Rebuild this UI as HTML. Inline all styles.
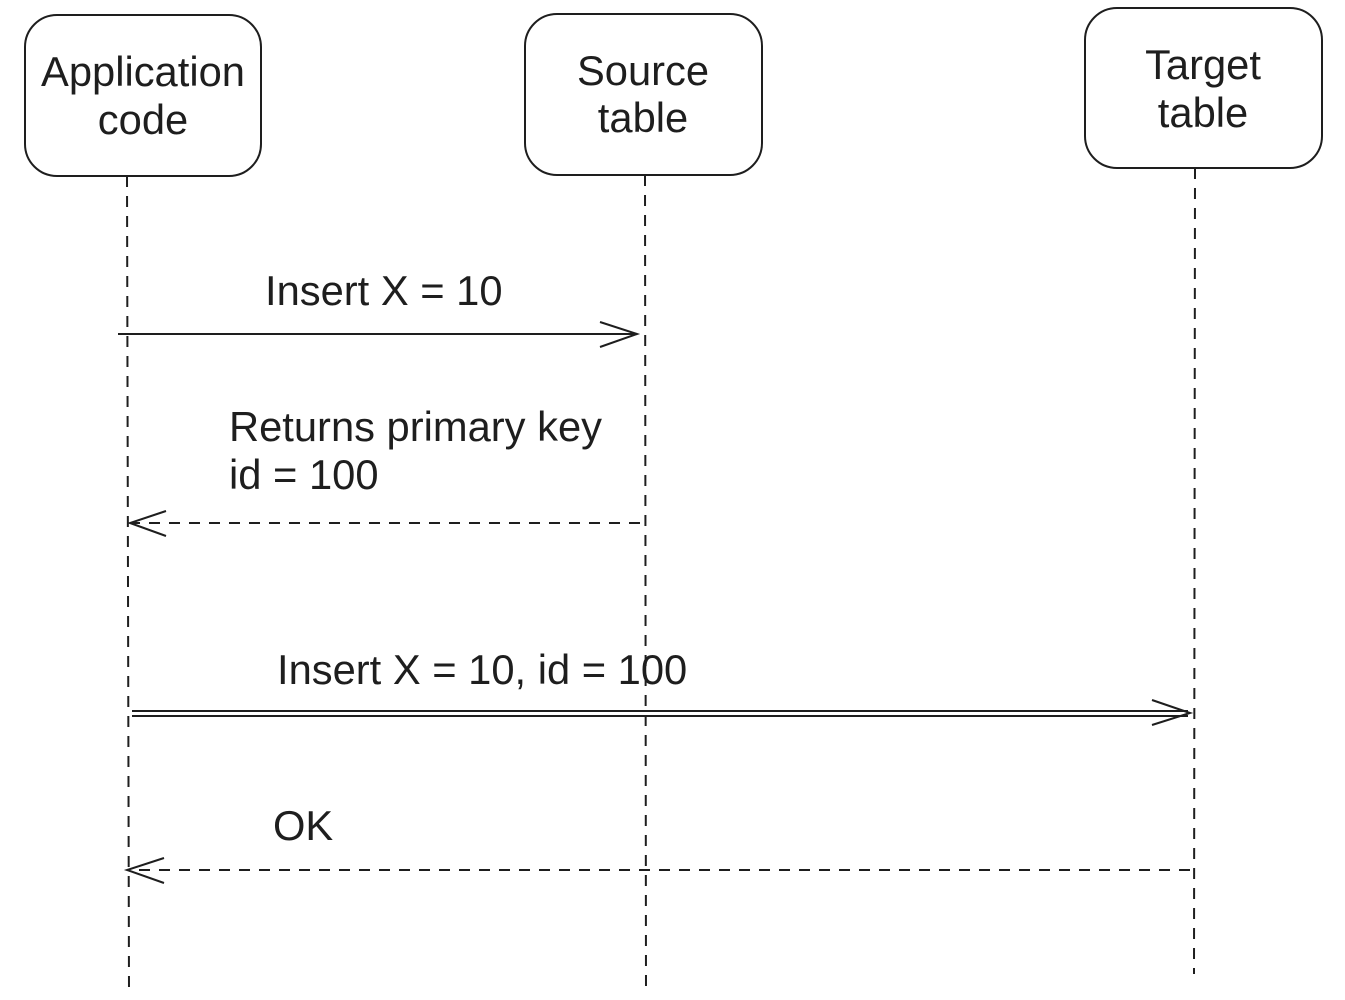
<!DOCTYPE html>
<html><head><meta charset="utf-8"><style>
body{margin:0;background:#fff;}
svg text{font-family:"Liberation Sans",Arial,sans-serif;font-size:41.7px;fill:#1e1e1e;}
</style></head><body>
<svg width="1345" height="995" viewBox="0 0 1345 995" xmlns="http://www.w3.org/2000/svg">
<g fill="none" stroke="#1e1e1e" stroke-width="2">
<rect x="25" y="15" width="236" height="161" rx="32"/>
<rect x="525" y="14" width="237" height="161" rx="32"/>
<rect x="1085" y="8" width="237" height="160" rx="32"/>
<g stroke-dasharray="11 9">
<line x1="127" y1="176" x2="129" y2="992"/>
<line x1="645" y1="175" x2="646" y2="994"/>
<line x1="1195" y1="168" x2="1194" y2="974"/>
<line x1="640" y1="523" x2="132" y2="523"/>
<line x1="1190" y1="870" x2="129" y2="870"/>
</g>
<line x1="118" y1="334" x2="637" y2="334"/>
<polyline points="600,322 637,334 600,347"/>
<polyline points="166,511 130,523 166,536"/>
<line x1="132" y1="711" x2="1188" y2="711"/>
<line x1="132" y1="716" x2="1188" y2="716"/>
<polyline points="1152,700 1190,713 1152,725"/>
<polyline points="164,858 127,870 164,883"/>
</g>
<text x="143" y="86" text-anchor="middle">Application</text>
<text x="143" y="134" text-anchor="middle">code</text>
<text x="643" y="85" text-anchor="middle">Source</text>
<text x="643" y="132" text-anchor="middle">table</text>
<text x="1203" y="79" text-anchor="middle">Target</text>
<text x="1203" y="127" text-anchor="middle">table</text>
<text x="265" y="305">Insert X = 10</text>
<text x="229" y="441">Returns primary key</text>
<text x="229" y="489">id = 100</text>
<text x="277" y="684">Insert X = 10, id = 100</text>
<text x="273" y="840">OK</text>
</svg>
</body></html>
